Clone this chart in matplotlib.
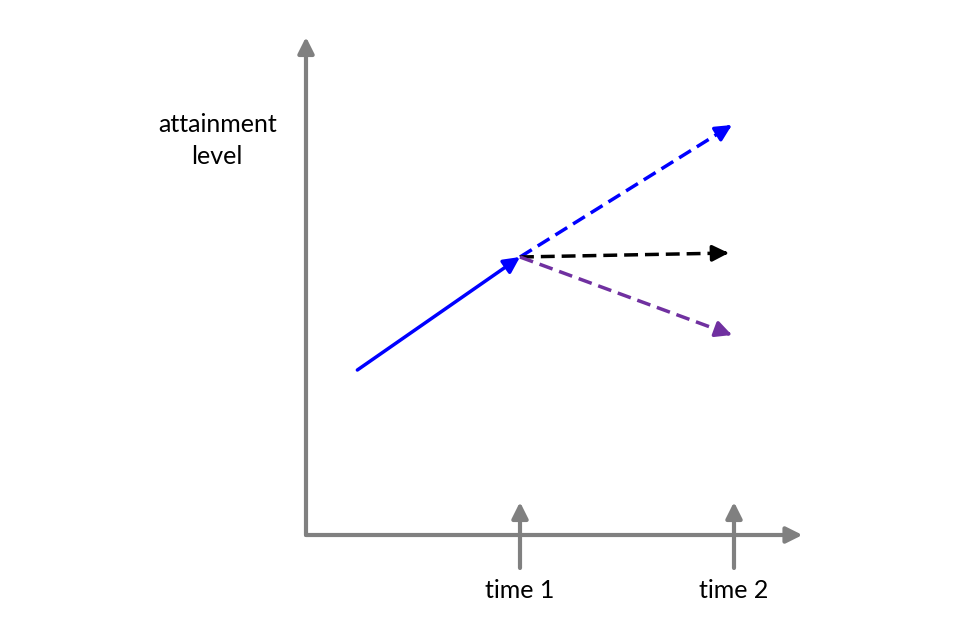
import numpy as np
import matplotlib.pyplot as plt

# diagram coordinates: x in "time" units, y in attainment units
time_ticks = [1.0, 2.0]
time_labels = ["time 1", "time 2"]

# observed growth up to time 1 (solid blue)
observed_t = [0.24, 1.0]
observed_y = [3.3, 5.56]

# possible trajectories from time 1 to time 2 (dashed)
proj_t = [1.0, 1.99]
proj_up = [5.56, 8.2]
proj_flat = [5.56, 5.64]
proj_down = [5.56, 4.0]

GRAY = "#808080"
BLUE = "#0000FF"
PURPLE = "#7030A0"
plt.rcParams['font.family'] = ['Lato', 'DejaVu Sans']

fig = plt.figure(figsize=(9.6, 6.4), dpi=100)
ax = fig.add_axes([0, 0, 1, 1])
ax.set_xlim(-306 / 214, (960 - 306) / 214)
ax.set_ylim(-105 / 50, 535 / 50)
ax.axis("off")


def arrow(x0, y0, x1, y1, color, lw, dashed=False, hl=0.8, hw=0.4, ms=12):
    style = f"-|>,head_length={hl},head_width={hw}"
    if dashed:
        # dashed shaft, solid head drawn on a tiny stub at the end
        fx = x0 + (x1 - x0) * 0.95
        fy = y0 + (y1 - y0) * 0.95
        ax.plot([x0, fx], [y0, fy], color=color, lw=lw, dashes=(4, 2),
                solid_capstyle="butt", dash_capstyle="butt")
        sx = x1 - (x1 - x0) * 0.02
        sy = y1 - (y1 - y0) * 0.02
        ax.annotate("", xy=(x1, y1), xytext=(sx, sy),
                    arrowprops=dict(arrowstyle=style, color=color, lw=lw,
                                    shrinkA=0, shrinkB=0, mutation_scale=ms))
    else:
        ax.annotate("", xy=(x1, y1), xytext=(x0, y0),
                    arrowprops=dict(arrowstyle=style, color=color, lw=lw,
                                    shrinkA=0, shrinkB=0, mutation_scale=ms))


# axes
arrow(0, 0, 0, 9.96, GRAY, 3)
arrow(0, 0, 2.32, 0, GRAY, 3)

# time markers
for t, lab in zip(time_ticks, time_labels):
    arrow(t, -0.66, t, 0.66, GRAY, 3)
    ax.text(t, -1.12, lab, ha="center", va="center", fontsize=18)

ax.text(-0.415, 8.22, "attainment", ha="center", va="center", fontsize=18)
ax.text(-0.415, 7.56, "level", ha="center", va="center", fontsize=18)

# trajectories
arrow(observed_t[0], observed_y[0], observed_t[1], observed_y[1], BLUE, 2.5)
arrow(proj_t[0], proj_up[0], proj_t[1], proj_up[1], BLUE, 2.5, dashed=True)
arrow(proj_t[0], proj_flat[0], proj_t[1] - 0.015, proj_flat[1], "black", 2.5, dashed=True)
arrow(proj_t[0], proj_down[0], proj_t[1], proj_down[1], PURPLE, 2.5, dashed=True)

fig.savefig("out.png", dpi=100)
